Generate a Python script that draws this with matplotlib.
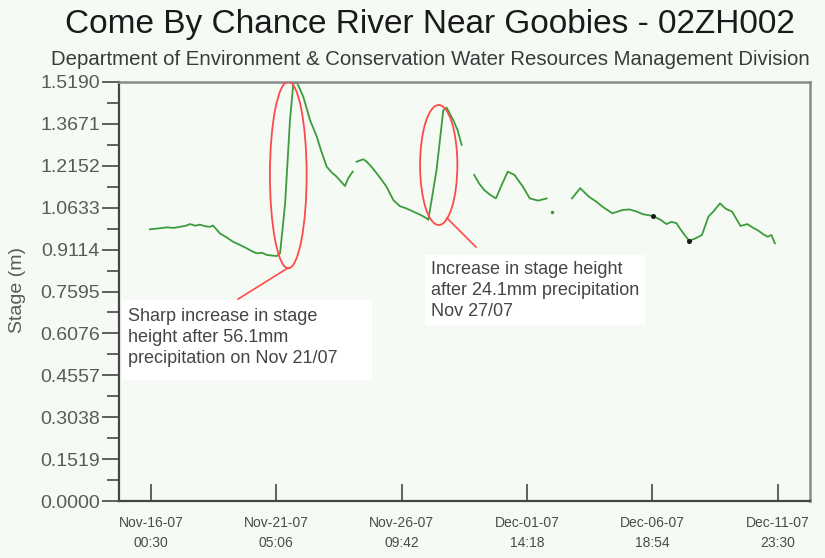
#Come By Chance River Near Goobies - stage hydrograph
import matplotlib
matplotlib.use('Agg')
import matplotlib.pyplot as plt
from matplotlib.patches import Ellipse, Rectangle
import numpy as np
import pandas as pd

plt.rcParams['font.family'] = ['Liberation Sans', 'DejaVu Sans']

#Datos (dias desde Nov-16-07 00:30, altura en m), nan = hueco
Dias = [-0.04, 0.30, 0.65, 0.95, 1.20, 1.45, 1.62, 1.85, 2.03, 2.25, 2.45, 2.57, 2.86, 3.15, 3.40, 3.70,
        3.97, 4.20, 4.38, 4.60, 4.80, 5.00, 5.21, 5.35, 5.56, 5.76, 5.90, 6.05, 6.31, 6.59, 6.87, 7.05,
        7.28, 7.50, 7.69, 7.90, 8.04, 8.17, 8.36, np.nan,
        8.52, 8.80, 8.94, 9.15, 9.35, 9.55, 9.76, 10.04, 10.31, 10.60, 10.87, 11.15, 11.42, 11.49, 11.83,
        12.11, 12.25, 12.52, 12.70, 12.87, np.nan,
        13.39, 13.60, 13.81, 14.05, 14.29, 14.55, 14.78, 15.06, 15.41, 15.69, 16.04, 16.39, np.nan,
        17.44, 17.78, 18.14, 18.45, 18.70, 19.11, 19.53, 19.81, 20.10, 20.37, 20.80, 21.10, 21.35, 21.56,
        21.77, 21.90, 22.10, 22.29, 22.50, 22.82, 23.09, 23.30, 23.57, 23.80, 24.07, 24.42, 24.70, 24.95,
        25.12, 25.40, 25.54, 25.70, 25.84]
Stage = [0.985, 0.988, 0.992, 0.990, 0.994, 0.998, 1.004, 0.998, 1.002, 0.996, 0.994, 0.999, 0.970, 0.955, 0.940, 0.928,
         0.916, 0.905, 0.898, 0.900, 0.892, 0.890, 0.888, 0.898, 1.079, 1.381, 1.514, 1.517, 1.466, 1.381, 1.321, 1.270,
         1.212, 1.190, 1.176, 1.155, 1.142, 1.170, 1.194, np.nan,
         1.230, 1.239, 1.230, 1.210, 1.188, 1.165, 1.139, 1.091, 1.069, 1.060, 1.049, 1.038, 1.025, 1.019, 1.200,
         1.417, 1.426, 1.381, 1.345, 1.291, np.nan,
         1.182, 1.150, 1.127, 1.110, 1.097, 1.150, 1.194, 1.182, 1.139, 1.097, 1.089, 1.097, np.nan,
         1.097, 1.134, 1.103, 1.085, 1.067, 1.043, 1.055, 1.057, 1.050, 1.040, 1.033, 1.020, 1.004, 1.012,
         1.007, 0.989, 0.965, 0.944, 0.950, 0.964, 1.031, 1.050, 1.079, 1.060, 1.049, 0.997, 1.004, 0.990,
         0.982, 0.965, 0.958, 0.964, 0.934]
PuntosNegros_d = [20.80, 22.29]
PuntosNegros_v = [1.033, 0.944]
PuntoSuelto_d = [16.60]
PuntoSuelto_v = [1.049]

Yticks = [0.0000, 0.1519, 0.3038, 0.4557, 0.6076, 0.7595, 0.9114, 1.0633, 1.2152, 1.3671, 1.5190]
Xlabels = ['Nov-16-07\n00:30', 'Nov-21-07\n05:06', 'Nov-26-07\n09:42',
           'Dec-01-07\n14:18', 'Dec-06-07\n18:54', 'Dec-11-07\n23:30']
PasoTick = 25.958/5#Dias entre ticks

Texto1 = 'Sharp increase in stage\nheight after 56.1mm\nprecipitation on Nov 21/07'
Texto2 = 'Increase in stage height\nafter 24.1mm precipitation\nNov 27/07'

Fondo = '#f5faf5'
Verde = '#3c9c3c'
Rojo = '#ff4a4a'
Gris = '#454545'

fig = plt.figure(figsize=(8.25, 5.58), dpi=100, facecolor=Fondo)
ax = fig.add_axes([119.4/825, 1-501/558, (809.6-119.4)/825, (501-82)/558])
ax.set_facecolor(Fondo)

ax.plot(Dias, Stage, color=Verde, lw=1.3)
ax.plot(PuntoSuelto_d, PuntoSuelto_v, 'o', color=Verde, ms=1.5)
ax.plot(PuntosNegros_d, PuntosNegros_v, 'o', color='#102010', ms=2.6)

ax.set_xlim(-1.304, 27.28)
ax.set_ylim(0, 1.519)

#Elipses y lineas rojas
ax.add_patch(Ellipse((5.69, 1.182), 1.52, 0.677, fill=False, edgecolor=Rojo, lw=1.3, zorder=3))
ax.add_patch(Ellipse((11.92, 1.218), 1.545, 0.435, fill=False, edgecolor=Rojo, lw=1.3, zorder=3))
ax.plot([5.68, 3.61], [0.845, 0.732], color=Rojo, lw=1.2)
ax.plot([12.26, 13.46], [1.026, 0.921], color=Rojo, lw=1.2)

#Cuadros de texto
ax.add_patch(Rectangle((-1.19, 0.439), 10.34, 0.290, facecolor='white', edgecolor='none', zorder=4))
ax.add_patch(Rectangle((11.35, 0.638), 9.11, 0.254, facecolor='white', edgecolor='none', zorder=4))
ax.text(-0.94, 0.700, Texto1, fontsize=13, color=Gris, va='top', ha='left', linespacing=1.3, zorder=5)
ax.text(11.60, 0.871, Texto2, fontsize=13, color=Gris, va='top', ha='left', linespacing=1.3, zorder=5)

#Ejes
ax.set_yticks(Yticks)
ax.set_yticklabels(['%.4f' % v for v in Yticks], fontsize=14, color='#5a5a5a')
ax.set_yticks([(Yticks[i]+Yticks[i+1])/2 for i in range(len(Yticks)-1)], minor=True)
ax.tick_params(axis='y', which='major', direction='out', length=12, width=1.2, color=Gris, pad=2)
ax.tick_params(axis='y', which='minor', direction='out', length=9, width=1.2, color=Gris)

ax.set_xticks([k*PasoTick for k in range(6)])
ax.set_xticklabels(Xlabels, fontsize=10, color='#4a4a4a', linespacing=1.55)
ax.tick_params(axis='x', which='major', direction='in', length=12, width=1.2, color=Gris, pad=11)

for lado in ['left', 'bottom']:
    ax.spines[lado].set_color(Gris)
    ax.spines[lado].set_linewidth(1.6)
for lado in ['top', 'right']:
    ax.spines[lado].set_color('#8a8a8a')
    ax.spines[lado].set_linewidth(1.8)

fig.text(18/825, 1-290/558, 'Stage (m)', rotation=90, fontsize=14, color='#5a5a5a', ha='center', va='center')
fig.text(430/825, 1-24/558, 'Come By Chance River Near Goobies - 02ZH002', fontsize=24, color='#1a1a1a',
         ha='center', va='center')
fig.text(430/825, 1-59/558, 'Department of Environment & Conservation Water Resources Management Division',
         fontsize=14.7, color='#3a3a3a', ha='center', va='center')

fig.savefig('out.png', dpi=100, facecolor=Fondo)
